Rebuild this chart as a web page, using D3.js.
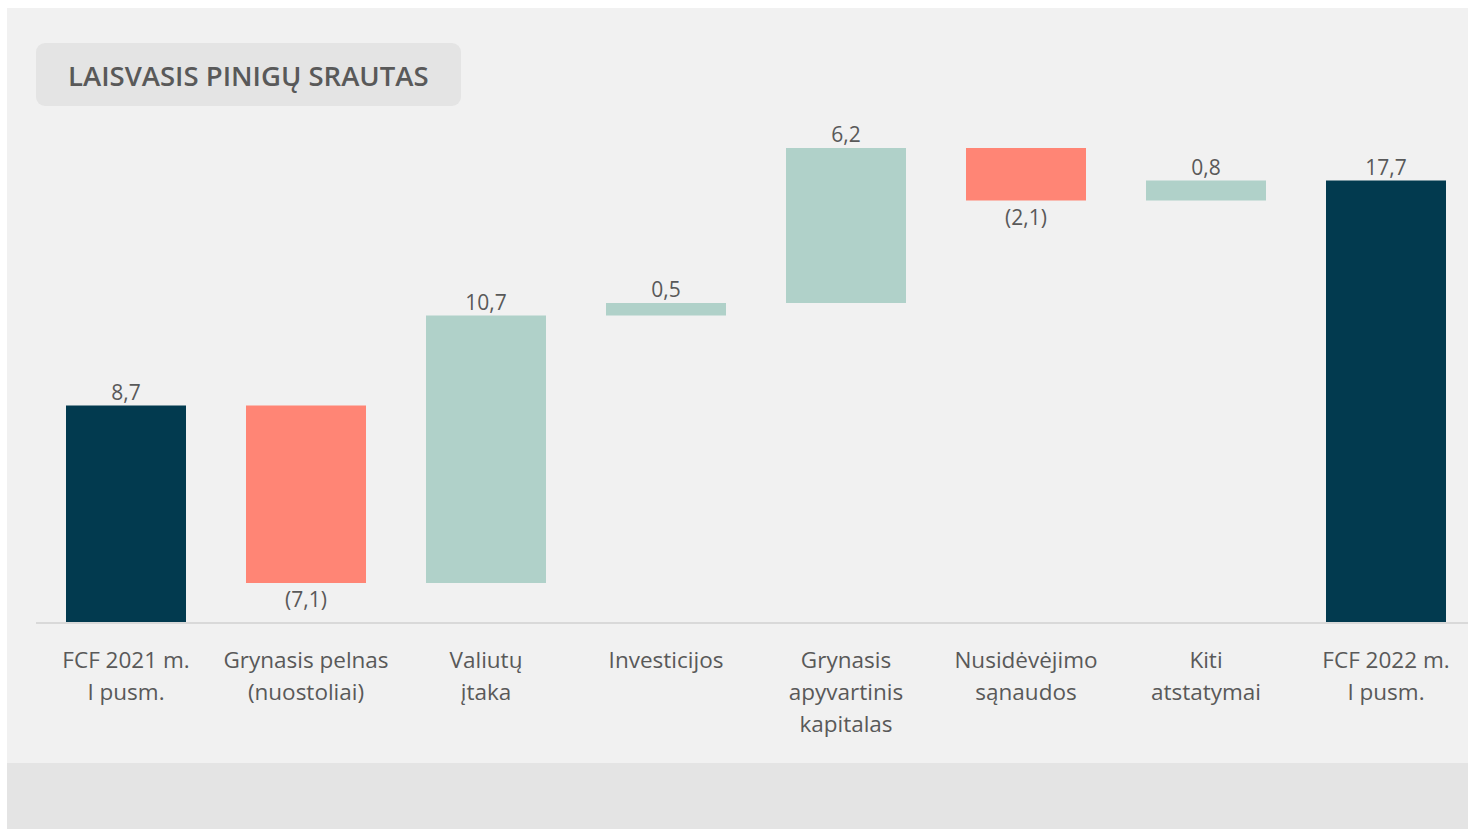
<!DOCTYPE html>
<html>
<head>
<meta charset="utf-8">
<script src="https://cdnjs.cloudflare.com/ajax/libs/d3/7.8.5/d3.min.js"></script>
<style>
  html, body { margin: 0; padding: 0; background: #ffffff; }
  svg { display: block; font-family: 'Open Sans', sans-serif; }
</style>
</head>
<body>
<svg id="chart"></svg>
<script>
const categories = [
	['FCF 2021 m.', 'I pusm.'],
	['Grynasis pelnas', '(nuostoliai)'],
	['Valiutų', 'įtaka'],
	['Investicijos'],
	['Grynasis', 'apyvartinis', 'kapitalas'],
	['Nusidėvėjimo', 'sąnaudos'],
	['Kiti', 'atstatymai'],
	['FCF 2022 m.', 'I pusm.']
]
const values = [8.7, -7.1, 10.7, 0.5, 6.2, -2.1, 0.8, 17.7]
const kinds = ['total', 'delta', 'delta', 'delta', 'delta', 'delta', 'delta', 'total']
const valueLabels = ['8,7', '(7,1)', '10,7', '0,5', '6,2', '(2,1)', '0,8', '17,7']

const colors = { total: '#023a4f', up: '#b0d1c9', down: '#ff8575' }

const W = 1468, H = 829
const svg = d3.select('#chart').attr('width', W).attr('height', H)

// background panels
svg.append('rect').attr('x', 7).attr('y', 8).attr('width', W - 7).attr('height', 755).attr('fill', '#f1f1f1')
svg.append('rect').attr('x', 7).attr('y', 763).attr('width', W - 7).attr('height', H - 763).attr('fill', '#e4e4e4')

// title box
svg.append('rect').attr('x', 36).attr('y', 43).attr('width', 425).attr('height', 63)
	.attr('rx', 9).attr('fill', '#e4e4e4')
svg.append('text').attr('x', 68).attr('y', 86)
	.attr('font-size', 27.5).attr('font-weight', 600).attr('fill', '#595959')
	.text('LAISVASIS PINIGŲ SRAUTAS')

// waterfall steps
let running = 0
const steps = values.map((v, i) => {
	let y0, y1
	if (kinds[i] === 'total') {
		y0 = 0; y1 = v; running = v
	} else {
		y0 = running; y1 = running + v; running = y1
	}
	return { i, v, y0, y1, kind: kinds[i], label: valueLabels[i] }
})

const x = d3.scaleBand()
	.domain(d3.range(categories.length))
	.range([36, 1476])
	.paddingInner(1 / 3)
	.paddingOuter(1 / 6)

const y = d3.scaleLinear()
	.domain([0, 19])
	.range([623, 148])

const g = svg.append('g')

g.selectAll('rect.bar')
	.data(steps)
	.join('rect')
	.attr('class', 'bar')
	.attr('x', d => x(d.i))
	.attr('width', x.bandwidth())
	.attr('y', d => y(Math.max(d.y0, d.y1)))
	.attr('height', d => Math.abs(y(d.y0) - y(d.y1)))
	.attr('fill', d => d.kind === 'total' ? colors.total : (d.v < 0 ? colors.down : colors.up))

// baseline
const xAxis = d3.axisBottom(x).tickSize(0).tickFormat('')
const axisG = svg.append('g').attr('transform', `translate(0,${y(0)})`).call(xAxis)
axisG.select('.domain').attr('stroke', '#d9d9d9').attr('stroke-width', 2)
	.attr('d', `M36,0H${W}`)

// value labels
g.selectAll('text.val')
	.data(steps)
	.join('text')
	.attr('class', 'val')
	.attr('x', d => x(d.i) + x.bandwidth() / 2)
	.attr('y', d => d.v < 0 ? y(Math.min(d.y0, d.y1)) + 24 : y(Math.max(d.y0, d.y1)) - 6)
	.attr('text-anchor', 'middle')
	.attr('font-size', 21)
	.attr('fill', '#595959')
	.text(d => d.label)

// category labels
const cat = g.selectAll('text.cat')
	.data(categories)
	.join('text')
	.attr('class', 'cat')
	.attr('text-anchor', 'middle')
	.attr('font-size', 22.5)
	.attr('fill', '#595959')

cat.selectAll('tspan')
	.data((d, i) => d.map(line => ({ line, i })))
	.join('tspan')
	.attr('x', d => x(d.i) + x.bandwidth() / 2)
	.attr('y', (d, j) => 668 + j * 32)
	.text(d => d.line)
</script>
</body>
</html>
